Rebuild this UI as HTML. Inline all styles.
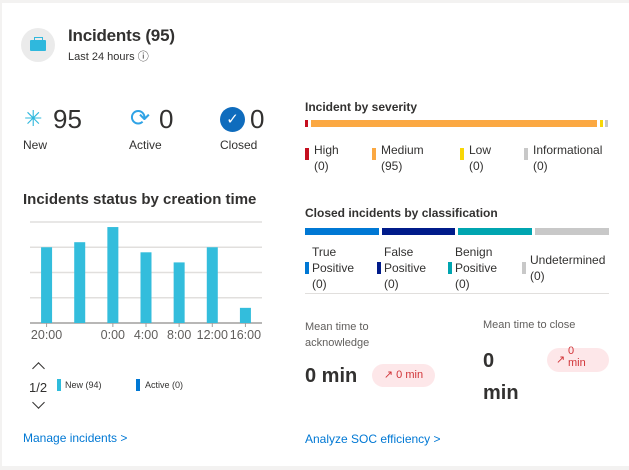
<!DOCTYPE html>
<html><head><meta charset="utf-8"><style>
body{margin:0;width:629px;height:470px;background:#f3f2f1;font-family:"Liberation Sans",sans-serif;color:#323130;position:relative;overflow:hidden}
.card{position:absolute;left:2px;top:3px;width:627px;height:463px;background:#fff}
.a{position:absolute;white-space:nowrap}
.lbl{font-size:12px;line-height:16px}
.sw{position:absolute;width:4px;height:12px}
.link{color:#0078d4;font-size:12px}
.chev{position:absolute;width:8px;height:8px;border-left:1.5px solid #323130;border-top:1.5px solid #323130}
</style></head><body>
<div class="card">
<div class="a" style="left:19px;top:25px;width:34px;height:34px;border-radius:50%;background:#ebebeb">
 <div style="position:absolute;left:9px;top:12px;width:16px;height:11px;background:#2fb8dd;border-radius:1px"></div>
 <div style="position:absolute;left:13px;top:9px;width:7px;height:3px;border:1px solid #2fb8dd;border-bottom:none"></div>
</div>
<div class="a" style="left:66px;top:23px;font-size:17px;font-weight:bold;color:#323130;letter-spacing:-0.2px">Incidents (95)</div>
<div class="a" style="left:66px;top:45px;font-size:11px">Last 24 hours ⓘ</div>

<div class="a" style="left:22px;top:103px;font-size:22px;color:#2fb8dd">✳</div>
<div class="a" style="left:51px;top:101px;font-size:26px">95</div>
<div class="a" style="left:21px;top:135px;font-size:12px">New</div>
<div class="a" style="left:128px;top:101px;font-size:24px;color:#2fa3e6">⟳</div>
<div class="a" style="left:157px;top:101px;font-size:26px">0</div>
<div class="a" style="left:127px;top:135px;font-size:12px">Active</div>
<div class="a" style="left:218px;top:104px;width:25px;height:25px;border-radius:50%;background:#0f6cbd;color:#fff;font-size:15px;text-align:center;line-height:25px">✓</div>
<div class="a" style="left:248px;top:101px;font-size:26px">0</div>
<div class="a" style="left:218px;top:135px;font-size:12px">Closed</div>

<div class="a" style="left:21px;top:188px;font-size:15px;font-weight:bold;color:#323130">Incidents status by creation time</div>
<svg class="a" id="chart" style="left:-2px;top:-3px" width="300" height="360"></svg>

<div class="chev" style="left:32px;top:361px;transform:rotate(45deg)"></div>
<div class="a" style="left:27px;top:377px;font-size:13px">1/2</div>
<div class="chev" style="left:32px;top:395px;transform:rotate(225deg)"></div>
<div class="sw" style="left:55px;top:376px;background:#2fbcdc"></div>
<div class="a" style="left:63px;top:377px;font-size:9px">New (94)</div>
<div class="sw" style="left:134px;top:376px;background:#0078d4"></div>
<div class="a" style="left:143px;top:377px;font-size:9px">Active (0)</div>
<div class="a link" style="left:21px;top:428px">Manage incidents &gt;</div>

<div class="a" style="left:303px;top:97px;font-size:12px;font-weight:bold">Incident by severity</div>
<div class="a" style="left:303px;top:117px;width:3px;height:7px;background:#c50f1f"></div>
<div class="a" style="left:309px;top:117px;width:286px;height:7px;background:#fba842"></div>
<div class="a" style="left:598px;top:117px;width:3px;height:7px;background:#f8d706"></div>
<div class="a" style="left:603px;top:117px;width:3px;height:7px;background:#c8c8c8"></div>
<div class="sw" style="left:303px;top:145px;background:#c50f1f"></div>
<div class="a lbl" style="left:312px;top:139px">High<br>(0)</div>
<div class="sw" style="left:370px;top:145px;background:#fba842"></div>
<div class="a lbl" style="left:379px;top:139px">Medium<br>(95)</div>
<div class="sw" style="left:458px;top:145px;background:#f8d706"></div>
<div class="a lbl" style="left:467px;top:139px">Low<br>(0)</div>
<div class="sw" style="left:522px;top:145px;background:#c8c8c8"></div>
<div class="a lbl" style="left:531px;top:139px">Informational<br>(0)</div>

<div class="a" style="left:303px;top:203px;font-size:12px;font-weight:bold">Closed incidents by classification</div>
<div class="a" style="left:303px;top:225px;width:74px;height:7px;background:#0078d4"></div>
<div class="a" style="left:380px;top:225px;width:73px;height:7px;background:#001b8a"></div>
<div class="a" style="left:456px;top:225px;width:74px;height:7px;background:#00a5b0"></div>
<div class="a" style="left:533px;top:225px;width:74px;height:7px;background:#c8c8c8"></div>
<div class="sw" style="left:303px;top:259px;background:#0078d4"></div>
<div class="a lbl" style="left:310px;top:241px">True<br>Positive<br>(0)</div>
<div class="sw" style="left:375px;top:259px;background:#001b8a"></div>
<div class="a lbl" style="left:382px;top:241px">False<br>Positive<br>(0)</div>
<div class="sw" style="left:446px;top:259px;background:#00a5b0"></div>
<div class="a lbl" style="left:453px;top:241px">Benign<br>Positive<br>(0)</div>
<div class="sw" style="left:520px;top:259px;background:#c8c8c8"></div>
<div class="a lbl" style="left:528px;top:249px">Undetermined<br>(0)</div>
<div class="a" style="left:303px;top:290px;width:304px;height:1px;background:#e1dfdd"></div>

<div class="a" style="left:303px;top:316px;font-size:11px;line-height:16px;color:#605e5c">Mean time to<br>acknowledge</div>
<div class="a" style="left:303px;top:362px;font-size:20px;font-weight:bold">0 min</div>
<div class="a" style="left:370px;top:361px;width:63px;height:23px;border-radius:12px;background:#fde7e9;color:#d13438;font-size:11px;line-height:23px;text-align:center">↗ 0 min</div>
<div class="a" style="left:481px;top:316px;font-size:11px;color:#605e5c">Mean time to close</div>
<div class="a" style="left:481px;top:342px;font-size:20px;font-weight:bold;line-height:32px">0<br>min</div>
<div class="a" style="left:545px;top:345px;width:62px;height:24px;border-radius:12px;background:#fde7e9;color:#d13438;font-size:11px;line-height:12px"><span style="position:absolute;left:9px;top:6px">↗</span><span style="position:absolute;left:21px;top:-3px">0<br>min</span></div>
<div class="a link" style="left:303px;top:429px">Analyze SOC efficiency &gt;</div>
</div>
<script>
const categories=["20:00","22:00","0:00","4:00","8:00","12:00","16:00"];
const newValues=[15,16,19,14,12,15,3];
const tickLabels=["20:00","","0:00","4:00","8:00","12:00","16:00"];
const gridValues=[5,10,15,20];
const svg=document.getElementById('chart');
const NS='http://www.w3.org/2000/svg';
const x0=30,x1=262,base=323,pxPerUnit=5.05;
const step=(x1-x0)/categories.length;
const xs=i=>x0+step*(i+0.5);
const ys=v=>base-v*pxPerUnit;
function mk(t,a){const e=document.createElementNS(NS,t);for(const k in a)e.setAttribute(k,a[k]);svg.appendChild(e);return e;}
gridValues.forEach(g=>{
 const l=mk('line',{x1:x0,x2:x1,y1:ys(g),y2:ys(g),stroke:'#e1dfdd','stroke-width':1.5});
 
 
});
const ax=mk('line',{x1:x0,x2:x1,y1:base,y2:base,stroke:'#a19f9d','stroke-width':1.5});


newValues.forEach((v,i)=>{
 const r=mk('rect',{x:xs(i)-5.5,y:ys(v),width:11,height:v*pxPerUnit,fill:'#33bddc'});
 
 
});
tickLabels.forEach((t,i)=>{
 if(!t)return;
 const tk=mk('line',{x1:xs(i),x2:xs(i),y1:base,y2:base+4,stroke:'#a19f9d'});
 
 
 const tx=mk('text',{x:xs(i),y:base+16,'text-anchor':'middle','font-size':12.5,fill:'#605e5c','font-family':'Liberation Sans, sans-serif'});
 tx.textContent=t;
 
 
});
</script>
</body></html>
